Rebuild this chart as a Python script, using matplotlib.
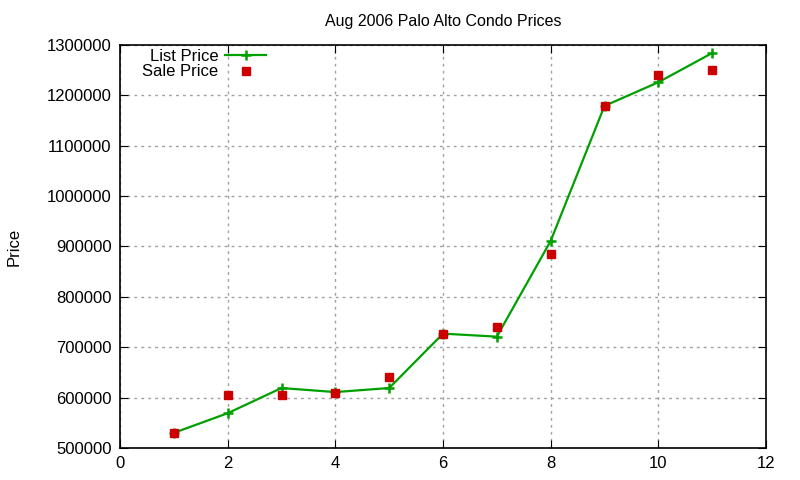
import matplotlib
matplotlib.use("Agg")
import matplotlib.pyplot as plt

plt.rcParams['font.family'] = ['Liberation Sans', 'DejaVu Sans']

# data
units = [1, 2, 3, 4, 5, 6, 7, 8, 9, 10, 11]
list_price = [530000, 569000, 619000, 611000, 619000, 727000, 721000,
              911000, 1179000, 1226000, 1284000]
sale_price = [530000, 605000, 605000, 610000, 641000, 726000, 740000,
              885000, 1179000, 1240000, 1251000]

green = '#00a000'
red = '#cc0000'

fig = plt.figure(figsize=(8, 4.8), dpi=100)
ax = fig.add_axes([0.15, 0.0667, 0.8075, 0.8396])

ax.plot(units, list_price, color=green, linewidth=1.6, marker='+',
        markersize=7, markeredgewidth=1.8, label='List Price')
ax.plot(units, sale_price, linestyle='none', color=red, marker='s',
        markersize=6, label='Sale Price')

ax.set_xlim(0, 12)
ax.set_ylim(500000, 1300000)
ax.set_xticks(range(0, 13, 2))
ax.set_yticks(range(500000, 1300001, 100000))
ax.ticklabel_format(style='plain', useOffset=False)
ax.tick_params(direction='in', top=True, right=True, length=6,
               labelsize=12, pad=6)
for s in ax.spines.values():
    s.set_linewidth(1.2)

ax.grid(True, color='#a0a0a0', linestyle=(0, (2, 3)), linewidth=1)

ax.set_title('Aug 2006 Palo Alto Condo Prices', fontsize=11.5, pad=14)
ax.set_ylabel('Price', fontsize=12, labelpad=18)

ax.legend(loc='upper left', bbox_to_anchor=(0.016, 1.02), markerfirst=False,
          frameon=False, fontsize=12, handlelength=2.5, handletextpad=0.4,
          labelspacing=0.05, borderaxespad=0.3)

fig.savefig('out.png', dpi=100)
